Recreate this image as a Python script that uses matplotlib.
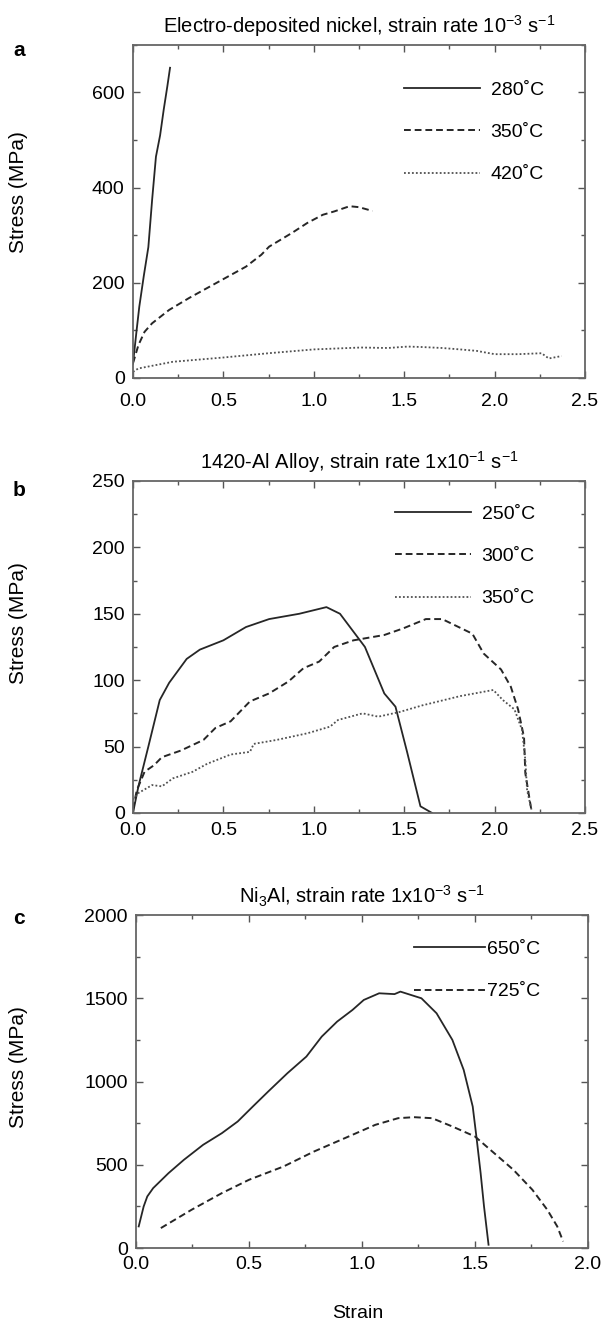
import matplotlib
matplotlib.use("Agg")
import matplotlib.pyplot as plt
from matplotlib.ticker import MultipleLocator

plt.rcParams["font.family"] = ["Liberation Sans", "DejaVu Sans"]
plt.rcParams["mathtext.fontset"] = "custom"
plt.rcParams["mathtext.rm"] = "Liberation Sans"
plt.rcParams["mathtext.it"] = "Liberation Sans"

# ---- panel a: electro-deposited nickel ----
a_280_x = [0.0, 0.01, 0.02, 0.035, 0.06, 0.085, 0.106, 0.127, 0.15, 0.17, 0.19, 0.205]
a_280_y = [30, 65, 100, 150, 215, 275, 375, 465, 510, 564, 613, 652]
a_350_x = [0.0, 0.03, 0.064, 0.106, 0.2, 0.31, 0.477, 0.625, 0.71, 0.753, 0.88, 0.965,
           1.05, 1.113, 1.198, 1.25, 1.325]
a_350_y = [31, 69, 97, 115, 143, 168, 203, 234, 259, 276, 305, 326, 343, 350, 361, 359, 351]
a_420_x = [0.0, 0.03, 0.22, 0.5, 0.75, 1.0, 1.26, 1.41, 1.52, 1.6, 1.71, 1.81, 1.9,
           2.0, 2.13, 2.26, 2.3, 2.37]
a_420_y = [13, 20, 34, 43, 52, 60, 64, 63, 66, 65, 63, 60, 57, 50, 50, 52, 41, 46]

# ---- panel b: 1420-Al alloy ----
b_250_x = [0.0, 0.03, 0.085, 0.148, 0.2, 0.297, 0.37, 0.5, 0.625, 0.753, 0.92, 1.07,
           1.145, 1.283, 1.39, 1.452, 1.516, 1.59, 1.654]
b_250_y = [0, 20, 50, 85, 98, 116, 123, 130, 140, 146, 150, 155, 150, 125, 90, 80, 46, 5, 0]
b_300_x = [0.0, 0.021, 0.064, 0.117, 0.16, 0.265, 0.39, 0.456, 0.54, 0.647, 0.753, 0.86,
           0.943, 1.03, 1.113, 1.22, 1.39, 1.495, 1.62, 1.71, 1.877, 1.94, 2.036, 2.09,
           2.13, 2.163, 2.17, 2.205]
b_300_y = [3, 17, 31, 36, 42, 47, 55, 64, 69, 84, 90, 99, 109, 114, 125, 130, 134, 139,
           146, 146, 135, 120, 108, 95, 78, 57, 30, 1]
b_350_x = [0.0, 0.03, 0.106, 0.16, 0.22, 0.33, 0.41, 0.54, 0.647, 0.668, 0.795, 0.965,
           1.09, 1.134, 1.27, 1.357, 1.474, 1.6, 1.81, 1.993, 2.046, 2.11, 2.152, 2.17,
           2.18, 2.205]
b_350_y = [10, 15, 21, 20, 26, 31, 37, 44, 46, 52, 55, 60, 65, 70, 75, 72.5, 76, 81, 88,
           92.6, 85, 78, 62.5, 40, 17, 2]

# ---- panel c: Ni3Al ----
c_650_x = [0.012, 0.034, 0.05, 0.076, 0.144, 0.212, 0.297, 0.38, 0.45, 0.517, 0.585,
           0.67, 0.754, 0.822, 0.89, 0.958, 1.008, 1.076, 1.144, 1.17, 1.263, 1.33, 1.4,
           1.45, 1.49, 1.508, 1.525, 1.54, 1.56]
c_650_y = [130, 250, 310, 360, 450, 530, 620, 690, 760, 850, 940, 1050, 1150, 1270, 1360,
           1430, 1490, 1530, 1525, 1540, 1500, 1410, 1250, 1070, 850, 650, 450, 250, 20]
c_725_x = [0.11, 0.246, 0.38, 0.5, 0.653, 0.788, 0.924, 1.059, 1.16, 1.23, 1.31, 1.4, 1.5,
           1.585, 1.67, 1.754, 1.82, 1.864, 1.89]
c_725_y = [120, 230, 330, 410, 490, 580, 660, 740, 780, 786, 780, 730, 670, 570, 470, 350,
           230, 130, 40]

panels = [
    {
        "rect": [0.2209, 0.7156, 0.7508, 0.2506],
        "title": r"Electro-deposited nickel, strain rate 10$^{-3}$ s$^{-1}$",
        "letter": "a", "letter_y": 50,
        "ylab_y": 192,
        "xlim": 2.5, "ylim": 700, "ymajor": 200, "yminor": 100, "xpad": 10.5,
        "curves": [(a_280_x, a_280_y, "280˚C", "-"),
                   (a_350_x, a_350_y, "350˚C", "--"),
                   (a_420_x, a_420_y, "420˚C", ":")],
        "leg": (0.6, 0.89), "hlen": 3.9, "hpad": 0.55,
    },
    {
        "rect": [0.2209, 0.3883, 0.7508, 0.2498],
        "title": r"1420-Al Alloy, strain rate 1x10$^{-1}$ s$^{-1}$",
        "letter": "b", "letter_y": 490,
        "ylab_y": 623,
        "xlim": 2.5, "ylim": 250, "ymajor": 50, "yminor": 25, "xpad": 6.5,
        "curves": [(b_250_x, b_250_y, "250˚C", "-"),
                   (b_300_x, b_300_y, "300˚C", "--"),
                   (b_350_x, b_350_y, "350˚C", ":")],
        "leg": (0.58, 0.926), "hlen": 3.9, "hpad": 0.55,
    },
    {
        "rect": [0.2259, 0.0609, 0.7508, 0.2506],
        "title": r"Ni$_3$Al, strain rate 1x10$^{-3}$ s$^{-1}$",
        "letter": "c", "letter_y": 918,
        "ylab_y": 1067,
        "xlim": 2.0, "ylim": 2000, "ymajor": 500, "yminor": 250, "xpad": 6,
        "curves": [(c_650_x, c_650_y, "650˚C", "-"),
                   (c_725_x, c_725_y, "725˚C", "--")],
        "leg": (0.615, 0.923), "hlen": 3.65, "hpad": 0.1,
    },
]

styles = {
    "-": dict(linestyle="-", color="#262626", lw=1.3),
    "--": dict(linestyle=(0, (3.5, 2)), color="#262626", lw=1.4),
    ":": dict(linestyle=(0, (1, 1.2)), color="#505050", lw=1.3),
}

fig = plt.figure(figsize=(6.02, 13.29), dpi=100)
H = 1329.0

for p in panels:
    ax = fig.add_axes(p["rect"])
    for xs, ys, lab, ls in p["curves"]:
        ax.plot(xs, ys, label=lab, **styles[ls])

    ax.set_xlim(0, p["xlim"])
    ax.set_ylim(0, p["ylim"])
    ax.xaxis.set_major_locator(MultipleLocator(0.5))
    ax.xaxis.set_minor_locator(MultipleLocator(0.25))
    ax.yaxis.set_major_locator(MultipleLocator(p["ymajor"]))
    ax.yaxis.set_minor_locator(MultipleLocator(p["yminor"]))
    ax.xaxis.set_major_formatter(lambda v, pos: f"{v:.1f}")
    ax.tick_params(which="both", direction="in", top=True, right=True,
                   color="#555555", labelsize=14)
    ax.tick_params(which="major", length=5, width=1)
    ax.tick_params(which="minor", length=3, width=1)
    ax.tick_params(axis="x", which="major", pad=p["xpad"])
    ax.tick_params(axis="y", which="major", pad=6)
    for sp in ax.spines.values():
        sp.set_color("#666666")
        sp.set_linewidth(1.3)

    ax.text(0.5, 1 + 12 / 333, p["title"], transform=ax.transAxes,
            ha="center", va="baseline", fontsize=14.5)

    ax.legend(loc="upper left", bbox_to_anchor=p["leg"], frameon=False,
              fontsize=14, handlelength=p["hlen"], handletextpad=p["hpad"],
              labelspacing=1.26, borderpad=0, borderaxespad=0)

    fig.text(19 / 602, 1 - p["letter_y"] / H, p["letter"], fontsize=15,
             fontweight="bold", ha="center", va="center")
    fig.text(19 / 602, 1 - p["ylab_y"] / H, "Stress (MPa)", fontsize=15,
             rotation=90, ha="center", va="center")

fig.text(358 / 602, 1 - 1313 / H, "Strain", fontsize=14, ha="center", va="center")

fig.savefig("out.png", dpi=100)
